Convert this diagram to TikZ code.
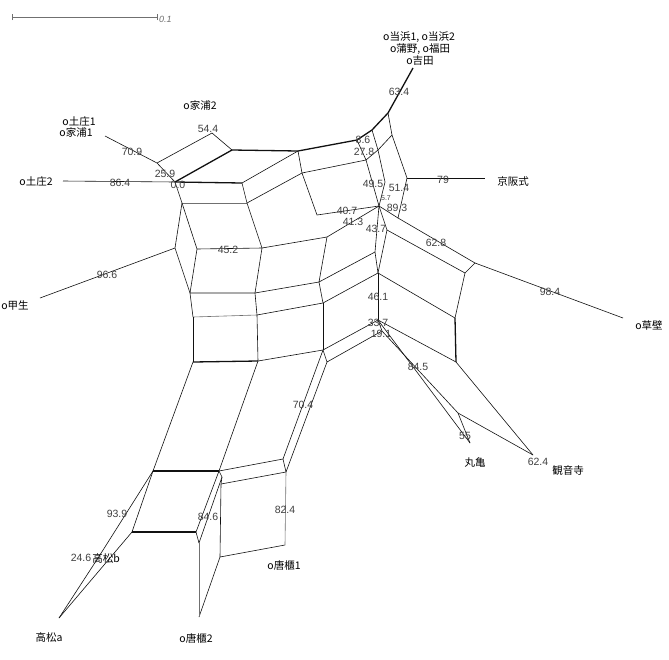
\documentclass[tikz,border=0pt]{standalone}
\usepackage{fontspec}
\setmainfont{Liberation Sans}
\newfontfamily\cjk{Noto Sans CJK JP}
\usepackage{tikz}
\definecolor{EdgeBlack}{HTML}{111111}
\definecolor{EdgeGray}{HTML}{707070}
\definecolor{LabelGray}{HTML}{404040}

\begin{document}
\begin{tikzpicture}[x=1pt,y=-1pt,
    edge/.style={draw=EdgeBlack,line width=0.6pt},
    heavyedge/.style={draw=EdgeBlack,line width=1.3pt},
    lightedge/.style={draw=EdgeGray,line width=0.6pt},
    weight/.style={text=LabelGray,font=\fontsize{10.5}{11}\selectfont,inner sep=0pt},
    taxon/.style={text=black,font=\cjk\fontsize{10.5}{11}\selectfont,inner sep=0pt}]
\useasboundingbox (0,0) rectangle (669,659);
\fill[white] (0,0) rectangle (669,659);

% scale bar
\coordinate (sbl) at (12,17);
\coordinate (sbr) at (157,17);
\draw[EdgeGray,line width=0.9pt] (sbl) -- (sbr);
\draw[EdgeGray,line width=0.9pt] ([yshift=-3]sbl) -- ([yshift=3]sbl);
\draw[EdgeGray,line width=0.9pt] ([yshift=-3]sbr) -- ([yshift=3]sbr);
\node[weight,text=EdgeGray,anchor=west,font=\itshape\fontsize{9}{10}\selectfont] (scale) at (159,19) {0.1};

% vertices, upper left
\coordinate (tz1) at (105,136);
\coordinate (tz2) at (63,181);
\coordinate (v1) at (157,163);
\coordinate (v2) at (212,133);
\coordinate (v3) at (232,150);
\coordinate (v4) at (175,182);
\coordinate (v5) at (298,151);
\coordinate (v6) at (242,183);
\coordinate (v7) at (182,203);
\coordinate (v8) at (247,203);
\coordinate (v9) at (302,173);
% vertices, upper right
\coordinate (yo) at (413,68);
\coordinate (r1) at (388,113);
\coordinate (r2) at (372,130);
\coordinate (r3) at (357,140);
\coordinate (r4) at (392,135);
\coordinate (r5) at (378,150);
\coordinate (r6) at (366,160);
\coordinate (kh) at (407,178);
\coordinate (ks) at (485,178);
\coordinate (r7) at (385,182);
\coordinate (hub) at (379,206);
\coordinate (k1) at (398,218);
\coordinate (k2) at (387,230);
\coordinate (k3) at (475,263);
\coordinate (k4) at (465,273);
\coordinate (ku) at (623,318);
% vertices, middle
\coordinate (v10) at (317,215);
\coordinate (v11) at (262,248);
\coordinate (v12) at (327,237);
\coordinate (d1) at (175,248);
\coordinate (d2) at (197,249);
\coordinate (d3) at (190,293);
\coordinate (ko) at (40,298);
\coordinate (v13) at (255,293);
\coordinate (v14) at (319,282);
\coordinate (q1) at (375,252);
\coordinate (v15) at (193,317);
\coordinate (v16) at (257,315);
\coordinate (v17) at (323,303);
\coordinate (q2) at (378,273);
\coordinate (q3) at (455,318);
\coordinate (q4) at (456,362);
\coordinate (s1) at (378,320);
\coordinate (s2) at (382,331);
\coordinate (v18) at (193,362);
\coordinate (v19) at (258,361);
\coordinate (v20) at (323,350);
\coordinate (v21) at (327,362);
\coordinate (m1) at (458,413);
\coordinate (mg) at (470,443);
\coordinate (kn) at (533,455);
% vertices, lower part
\coordinate (w1) at (153,471);
\coordinate (w2) at (219,471);
\coordinate (w3) at (222,477);
\coordinate (w4) at (221,484);
\coordinate (w5) at (283,459);
\coordinate (w6) at (286,472);
\coordinate (w7) at (132,532);
\coordinate (w8) at (196,532);
\coordinate (w9) at (199,543);
\coordinate (w10) at (220,557);
\coordinate (w11) at (285,545);
\coordinate (kr2) at (199,617);
\coordinate (ta) at (59,618);
\coordinate (tb) at (98,558);

% heavy edges
\draw[heavyedge] (v4) -- (v3) -- (v5) -- (r3) -- (r2) -- (r1) -- (yo);
\draw[heavyedge] (v4) -- (v6);
\draw[heavyedge] (v18) -- (v19);
\draw[heavyedge] (w1) -- (w2);
\draw[heavyedge] (w7) -- (w8);
\draw[heavyedge] (q3) -- (q4);

% edges, upper left
\draw[edge] (tz1) -- (v1) -- (v2) -- (v3);
\draw[edge] (v1) -- (v4);
\draw[edge] (tz2) -- (v4);
\draw[edge] (v6) -- (v5);
\draw[edge] (v4) -- (v7);
\draw[edge] (v6) -- (v8);
\draw[lightedge] (v7) -- (v8);
\draw[edge] (v8) -- (v9) -- (v5);
\draw[edge] (v9) -- (r6);
% edges, upper right
\draw[edge] (r3) -- (r6);
\draw[edge] (r2) -- (r5);
\draw[edge] (r1) -- (r4);
\draw[edge] (r4) -- (r5) -- (r6);
\draw[edge] (r4) -- (kh);
\draw[edge] (r5) -- (r7) -- (hub);
\draw[edge] (r6) -- (hub);
\draw[edge] (kh) -- (ks);
\draw[edge] (kh) -- (k1);
\draw[edge] (hub) -- (k1);
\draw[edge] (hub) -- (k2);
\draw[edge] (k1) -- (k3);
\draw[edge] (k2) -- (k4);
\draw[edge] (k3) -- (k4);
\draw[edge] (k3) -- (ku);
% edges, middle
\draw[edge] (v9) -- (v10) -- (hub);
\draw[edge] (v8) -- (v11) -- (v12) -- (hub);
\draw[edge] (v7) -- (d1) -- (d3);
\draw[edge] (v7) -- (d2) -- (d3);
\draw[edge] (d1) -- (ko);
\draw[edge] (d2) -- (v11);
\draw[edge] (v11) -- (v13);
\draw[edge] (d3) -- (v13) -- (v14);
\draw[edge] (v12) -- (v14) -- (q1);
\draw[edge] (hub) -- (q1) -- (q2);
\draw[edge] (k2) -- (q2);
\draw[edge] (d3) -- (v15);
\draw[edge] (v13) -- (v16);
\draw[edge] (v14) -- (v17);
\draw[lightedge] (v15) -- (v16);
\draw[edge] (v16) -- (v17) -- (q2);
\draw[edge] (q2) -- (q3);
\draw[edge] (k4) -- (q3);
\draw[edge] (q2) -- (s1);
\draw[edge] (v15) -- (v18);
\draw[edge] (v16) -- (v19);
\draw[edge] (v17) -- (v20);
\draw[edge] (v19) -- (v20) -- (s1);
\draw[edge] (v20) -- (v21) -- (s2);
\draw[edge] (s1) -- (s2);
\draw[edge] (s1) -- (q4) -- (kn);
\draw[edge] (s1) -- (mg);
\draw[edge] (s2) -- (m1) -- (mg);
\draw[edge] (m1) -- (kn);
% edges, lower part
\draw[edge] (v18) -- (w1);
\draw[edge] (v19) -- (w2) -- (w3) -- (w4);
\draw[edge] (v20) -- (w5);
\draw[edge] (v21) -- (w6);
\draw[edge] (w2) -- (w5) -- (w6);
\draw[edge] (w4) -- (w6);
\draw[edge] (w1) -- (w7);
\draw[edge] (w2) -- (w8) -- (w9);
\draw[edge] (w3) -- (w9);
\draw[edge] (w4) -- (w10) -- (w11);
\draw[lightedge] (w6) -- (w11);
\draw[edge] (w10) -- (kr2);
\draw[lightedge] (w9) -- (kr2);
\draw[edge] (w1) -- (tb) -- (ta);
\draw[edge] (w7) -- (ta);

% edge weights
\node[weight] (l634) at (399,92) {63.4};
\node[weight] (l709) at (132,152) {70.9};
\node[weight] (l544) at (208,129) {54.4};
\node[weight] (l259) at (165,174) {25.9};
\node[weight] (l864) at (120,183) {86.4};
\node[weight] (l00) at (178,185) {0.0};
\node[weight] (l966) at (107,275) {96.6};
\node[weight] (l452) at (228,250) {45.2};
\node[weight] (l86) at (363,140) {8.6};
\node[weight] (l278) at (364,152) {27.8};
\node[weight] (l495) at (373,184) {49.5};
\node[weight] (l514) at (399,188) {51.4};
\node[weight,font=\fontsize{7}{8}\selectfont] (l57) at (386,198) {5.7};
\node[weight] (l893) at (397,208) {89.3};
\node[weight] (l407) at (347,211) {40.7};
\node[weight] (l413) at (353,222) {41.3};
\node[weight] (l437) at (376,229) {43.7};
\node[weight] (l628) at (436,243) {62.8};
\node[weight] (l79) at (443,180) {79};
\node[weight] (l984) at (550,292) {98.4};
\node[weight] (l461) at (378,297) {46.1};
\node[weight] (l337) at (378,323) {33.7};
\node[weight] (l191) at (381,334) {19.1};
\node[weight] (l845) at (418,367) {84.5};
\node[weight] (l55) at (465,436) {55};
\node[weight] (l624) at (538,462) {62.4};
\node[weight] (l704) at (303,405) {70.4};
\node[weight] (l939) at (117,514) {93.9};
\node[weight] (l846) at (208,517) {84.6};
\node[weight] (l824) at (285,510) {82.4};
\node[weight] (l246) at (81,558) {24.6};

% taxa
\node[taxon] (toha) at (419,37) {o当浜1, o当浜2};
\node[taxon] (kama) at (420,49) {o蒲野, o福田};
\node[taxon] (yosh) at (420,61) {o吉田};
\node[taxon] (ieu2) at (200,106) {o家浦2};
\node[taxon] (toi1) at (79,122) {o土庄1};
\node[taxon] (ieu1) at (76,133) {o家浦1};
\node[taxon] (toi2) at (36,182) {o土庄2};
\node[taxon] (kisa) at (15,306) {o甲生};
\node[taxon] (keih) at (513,182) {京阪式};
\node[taxon] (kusa) at (649,325) {o草壁};
\node[taxon] (maru) at (475,463) {丸亀};
\node[taxon] (kann) at (568,471) {観音寺};
\node[taxon] (takb) at (106,559) {高松b};
\node[taxon] (kar1) at (284,566) {o唐櫃1};
\node[taxon] (taka) at (49,638) {高松a};
\node[taxon] (kar2) at (196,639) {o唐櫃2};
\end{tikzpicture}
\end{document}
